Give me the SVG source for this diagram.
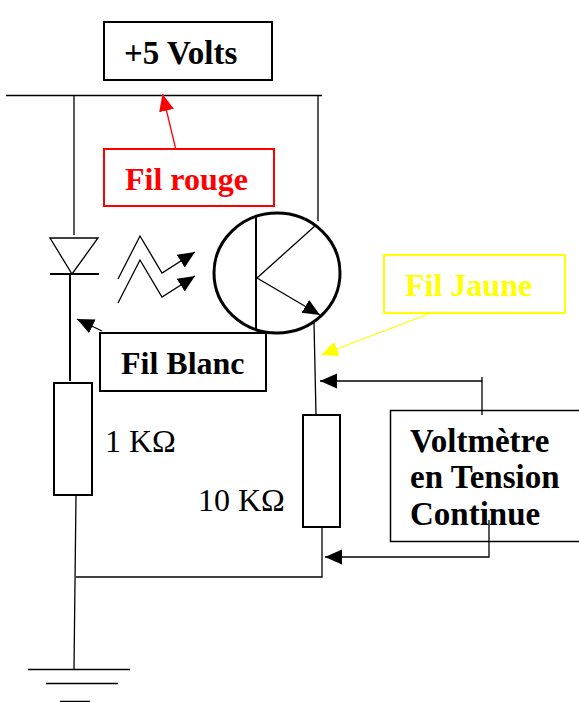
<svg xmlns="http://www.w3.org/2000/svg" width="579" height="702" viewBox="0 0 579 702">
<defs>
<marker id="ak" markerUnits="userSpaceOnUse" markerWidth="20" markerHeight="16" refX="17" refY="7.500" orient="auto"><path d="M0 0L17 7.500L0 15Z" fill="#000"/></marker>
<marker id="ar" markerUnits="userSpaceOnUse" markerWidth="20" markerHeight="16" refX="17" refY="7.500" orient="auto"><path d="M0 0L17 7.500L0 15Z" fill="#f00"/></marker>
<marker id="ay" markerUnits="userSpaceOnUse" markerWidth="20" markerHeight="16" refX="17" refY="7.500" orient="auto"><path d="M0 0L17 7.500L0 15Z" fill="#ff0"/></marker>
</defs>
<style>
.w{fill:none;stroke:#000;stroke-width:1.300}
.t{fill:none;stroke:#000;stroke-width:2}
.b{fill:#fff;stroke:#000;stroke-width:2}
text{font-family:"Liberation Serif","Times New Roman",serif;font-size:32px;fill:#000}
.h{font-weight:bold}
.v{font-size:33px}
</style>
<rect width="579" height="702" fill="#fff"/>
<g id="connectors">
<path class="w" d="M6 95.500H322M74 95V235M318 96V221"/>
<path d="M175.500 148L162.500 94" fill="none" stroke="#f00" stroke-width="1.300" marker-end="url(#ar)"/>
<path class="t" d="M70 274V381"/>
<path class="w" d="M76 495L74 669M76 577H322V527"/>
<path class="w" d="M314 322L316 415"/>
<path class="w" d="M118 279L140 236L162 273L195 252"  marker-end="url(#ak)"/>
<path class="w" d="M118 303L140 260L162 297L195 276" marker-end="url(#ak)"/>
<path class="w" d="M102 331L77 319" marker-end="url(#ak)"/>
<path d="M431 313L321 355" fill="none" stroke="#ff0" stroke-width="1.300" marker-end="url(#ay)"/>
<path class="w" d="M482 377V415M482 381H320" marker-end="url(#ak)"/>
<path class="w" d="M489 520V557H325" marker-end="url(#ak)"/>
</g>
<g id="supply"><rect class="b" x="104" y="22" width="168" height="58"/><text class="h v" x="124" y="64">+5 Volts</text></g>
<g id="fil-rouge"><rect x="104" y="149" width="170" height="57" fill="#fff" stroke="#f00" stroke-width="2"/><text class="h" x="125" y="190" style="fill:#f00">Fil rouge</text></g>
<g id="diode"><path class="w" d="M50 238H98L72 274Z"/><path class="t" d="M50 274H99"/></g>
<g id="transistor"><ellipse cx="277" cy="273" rx="63" ry="60" fill="none" stroke="#000" stroke-width="3"/><path class="t" d="M256 215V330"/><path class="w" d="M257 278L316 225"/><path class="w" d="M257 278L320 315" marker-end="url(#ak)"/></g>
<g id="fil-blanc"><rect class="b" x="100" y="333" width="166" height="58"/><text class="h" x="121" y="374">Fil Blanc</text></g>
<g id="fil-jaune"><rect x="384" y="255" width="181" height="58" fill="#fff" stroke="#ff0" stroke-width="2"/><text class="h" x="405" y="296" style="fill:#ff0">Fil Jaune</text></g>
<g id="r1"><rect class="b" x="54" y="383" width="38" height="112"/><text x="105" y="452">1 KΩ</text></g>
<g id="r2"><rect class="b" x="303" y="415" width="37" height="112"/><text x="198" y="511">10 KΩ</text></g>
<g id="voltmetre"><rect x="390.500" y="410.500" width="200" height="131" fill="none" stroke="#000" stroke-width="1.500"/><text class="h v" x="410" y="452">Voltmètre</text><text class="h v" x="410" y="488">en Tension</text><text class="h v" x="410" y="525">Continue</text></g>
<g id="ground"><path class="w" d="M28 669.500H130M46 683.500H118M60 701.500H90"/></g>
</svg>
